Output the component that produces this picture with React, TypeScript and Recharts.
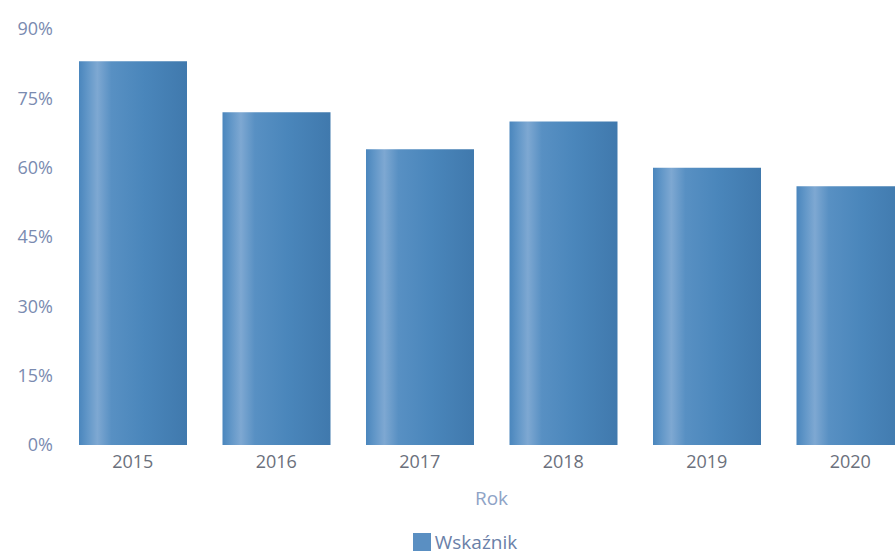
import React from 'react';
import { BarChart, Bar, XAxis, YAxis, Legend } from 'recharts';

const years = ['2015', '2016', '2017', '2018', '2019', '2020'];
const values = [83, 72, 64, 70, 60, 56];
const yTicks = [0, 15, 30, 45, 60, 75, 90];
const seriesName = 'Wskaźnik';

const data = years.map((y, i) => ({ rok: y, wskaznik: values[i] }));

const FONT = '"Open Sans", "Noto Sans", sans-serif';

const renderLegend = () => (
  <div style={{ display: 'flex', justifyContent: 'center', alignItems: 'center', fontFamily: FONT, fontSize: 19 }}>
    <span style={{ display: 'inline-block', width: 18, height: 18, background: '#5a8fc2', marginRight: 4 }} />
    <span style={{ color: '#6a80a8' }}>{seriesName}</span>
  </div>
);

export default function App() {
  return (
    <div style={{ position: 'absolute', left: 8, top: 8, width: 887, height: 548, overflow: 'hidden', background: '#fff' }}>
      <BarChart
        width={918}
        height={548}
        data={data}
        margin={{ top: 21, right: 4, bottom: 1, left: 0 }}
        style={{ fontFamily: FONT }}
      >
        <defs>
          <linearGradient id="barGrad" x1="0" y1="0" x2="1" y2="0">
            <stop offset="0%" stopColor="#4a86bd" />
            <stop offset="8%" stopColor="#6297c8" />
            <stop offset="17%" stopColor="#7ea8d2" />
            <stop offset="30%" stopColor="#5890c3" />
            <stop offset="60%" stopColor="#4a86bb" />
            <stop offset="100%" stopColor="#4079ad" />
          </linearGradient>
        </defs>
        <XAxis
          dataKey="rok"
          axisLine={false}
          tickLine={false}
          tickMargin={4}
          height={70}
          tick={{ fill: '#6b707c', fontSize: 18, fontFamily: FONT }}
          label={{ value: 'Rok', position: 'insideBottom', offset: 10, fill: '#8ea3c6', fontSize: 19, fontFamily: FONT }}
        />
        <YAxis
          domain={[0, 90]}
          ticks={yTicks}
          interval={0}
          width={53}
          axisLine={false}
          tickLine={false}
          tickFormatter={(v: number) => `${v}%`}
          tick={{ fill: '#7a8bb0', fontSize: 18, fontFamily: FONT }}
        />
        <Legend
          verticalAlign="bottom"
          align="center"
          wrapperStyle={{ paddingTop: 14 }}
          content={renderLegend}
        />
        <Bar
          dataKey="wskaznik"
          name={seriesName}
          fill="url(#barGrad)"
          barSize={108}
          isAnimationActive={false}
        />
      </BarChart>
    </div>
  );
}
